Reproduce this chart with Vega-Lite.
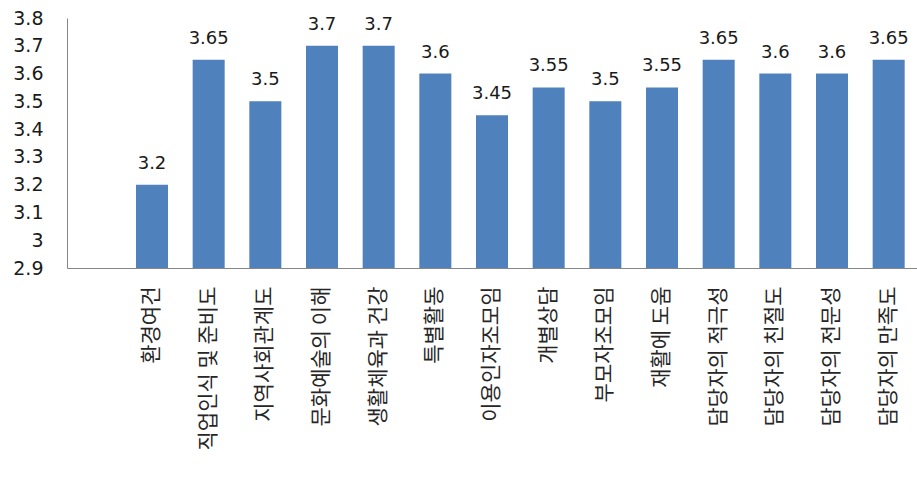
{
  "$schema": "https://vega.github.io/schema/vega-lite/v6.json",
  "width": 850,
  "height": 250,
  "autosize": {"type": "none"},
  "padding": {"left": 67, "top": 18, "right": 0, "bottom": 210},
  "background": "white",
  "config": {"view": {"stroke": null}},
  "data": {
    "values": [
      {"항목": "환경여건", "값": 3.2},
      {"항목": "직업인식 및 준비도", "값": 3.65},
      {"항목": "지역사회관계도", "값": 3.5},
      {"항목": "문화예술의 이해", "값": 3.7},
      {"항목": "생활체육과 건강", "값": 3.7},
      {"항목": "특별활동", "값": 3.6},
      {"항목": "이용인자조모임", "값": 3.45},
      {"항목": "개별상담", "값": 3.55},
      {"항목": "부모자조모임", "값": 3.5},
      {"항목": "재활에 도움", "값": 3.55},
      {"항목": "담당자의 적극성", "값": 3.65},
      {"항목": "담당자의 친절도", "값": 3.6},
      {"항목": "담당자의 전문성", "값": 3.6},
      {"항목": "담당자의 만족도", "값": 3.65}
    ]
  },
  "encoding": {
    "x": {
      "field": "항목",
      "type": "nominal",
      "sort": null,
      "scale": {
        "domain": [" ", "환경여건", "직업인식 및 준비도", "지역사회관계도", "문화예술의 이해", "생활체육과 건강", "특별활동", "이용인자조모임", "개별상담", "부모자조모임", "재활에 도움", "담당자의 적극성", "담당자의 친절도", "담당자의 전문성", "담당자의 만족도"],
        "paddingInner": 0.435,
        "paddingOuter": 0.2175
      },
      "axis": {
        "title": null,
        "labelAngle": -90,
        "labelAlign": "right",
        "labelBaseline": "middle",
        "labelFont": "Noto Sans CJK KR",
        "labelFontSize": 21,
        "labelColor": "#262626",
        "labelPadding": 18,
        "ticks": false,
        "domainColor": "#868686",
        "domainWidth": 1,
        "labelOverlap": false,
        "labelLimit": 400
      }
    },
    "y": {
      "field": "값",
      "type": "quantitative",
      "scale": {"domain": [2.9, 3.8], "zero": false, "nice": false},
      "axis": {
        "title": null,
        "values": [2.9, 3.0, 3.1, 3.2, 3.3, 3.4, 3.5, 3.6, 3.7, 3.8],
        "format": ".1~f",
        "grid": false,
        "ticks": false,
        "labelFont": "DejaVu Sans",
        "labelFontSize": 19,
        "labelColor": "#1a1a1a",
        "labelPadding": 24,
        "domainColor": "#868686",
        "domainWidth": 1
      }
    }
  },
  "layer": [
    {
      "mark": {"type": "bar", "color": "#4F81BD"},
      "encoding": {"y2": {"datum": 2.9}}
    },
    {
      "mark": {"type": "text", "baseline": "alphabetic", "dy": -16, "font": "DejaVu Sans", "fontSize": 18, "color": "#1a1a1a"},
      "encoding": {"text": {"field": "값", "type": "quantitative", "format": "~g"}}
    }
  ]
}
